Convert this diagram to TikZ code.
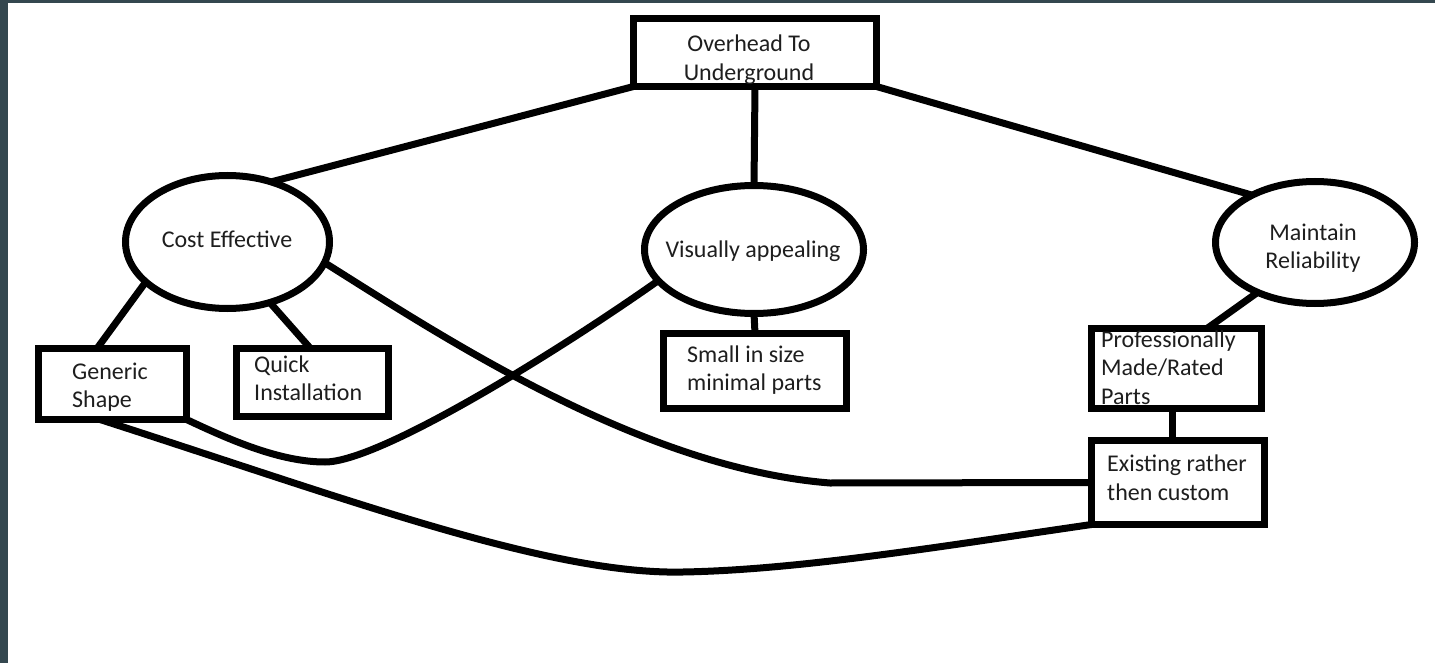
\documentclass[tikz,border=0pt]{standalone}
\usepackage{fontspec}
\setmainfont{Carlito}
\usetikzlibrary{shapes.geometric,calc}
\definecolor{framecol}{RGB}{52,71,79}
\definecolor{ink}{RGB}{30,30,30}
\begin{document}
\begin{tikzpicture}[x=1pt,y=-1pt,
  box/.style={draw,rectangle,line width=7pt,inner sep=0pt,outer sep=0pt},
  oval/.style={draw,ellipse,line width=7pt,inner sep=0pt,outer sep=0pt},
  txt/.style={text=ink,font=\fontsize{24}{28.5}\selectfont,inner sep=0pt},
  link/.style={line width=7pt}]
\fill[framecol] (0,0) rectangle (1435,663);
\fill[white] (8,3) rectangle (1435,663);
\useasboundingbox (0,0) rectangle (1435,663);
% shapes
\node[box,minimum width=243pt,minimum height=68pt] (top) at (755,52.5) {};
\node[oval,minimum width=204pt,minimum height=133pt] (cost) at (227.5,242) {};
\node[oval,minimum width=219pt,minimum height=128pt] (vis) at (754,249.5) {};
\node[oval,minimum width=199pt,minimum height=122pt] (maint) at (1315,242.5) {};
\node[box,minimum width=183pt,minimum height=75pt] (small) at (755,371) {};
\node[box,minimum width=148pt,minimum height=71pt] (gen) at (112.5,384) {};
\node[box,minimum width=152pt,minimum height=68pt] (quick) at (312.5,382.5) {};
\node[box,minimum width=170pt,minimum height=80pt] (prof) at (1176.5,368.5) {};
\node[box,minimum width=173pt,minimum height=84pt] (exist) at (1178,482.5) {};
% texts
\node[txt,align=center] (toptxt) at (749,59.5) {Overhead To\\Underground};
\node[txt] (costtxt) at (227,239) {Cost Effective};
\node[txt] (vistxt) at (753,251) {Visually appealing};
\node[txt,align=center] (mainttxt) at (1313,248) {Maintain\\Reliability};
\node[txt,align=left,anchor=west] (smalltxt) at (687,370) {Small in size\\minimal parts};
\node[txt,align=left,anchor=west] (gentxt) at (72,387) {Generic\\Shape};
\node[txt,align=left,anchor=west] (quicktxt) at (254,378.5) {Quick\\Installation};
\node[txt,align=left,anchor=west] (proftxt) at (1101,367.5) {Professionally\\Made/Rated\\Parts};
\node[txt,align=left,anchor=west] (existtxt) at (1107,478) {Existing rather\\then custom};
% connectors
\draw[link] (top.south west) -- (cost.54);
\draw[link] (top.south) -- (vis.north);
\draw[link] (top.south east) -- (maint.143);
\draw[link] (cost.206) -- ([xshift=-15.5pt]gen.north);
\draw[link] (cost.-55) -- ([xshift=-2pt]quick.north);
\draw[link] (vis.south) -- (small.north);
\draw[link] (maint.221) -- ([xshift=30.5pt]prof.north);
\draw[link] ([xshift=-4.5pt]prof.south) -- ([xshift=-4.5pt]prof.south |- exist.north);
\draw[link] (gen.south east) .. controls (230,440) and (280,462) .. (325,462)
  .. controls (380,462) and (560,350) .. (vis.198);
\draw[link] (cost.-12) .. controls (440,335) and (640,468) .. (830,483) -- (exist.west);
\draw[link] ([xshift=-12.5pt]gen.south) .. controls (350,500) and (550,575) .. (683,572)
  .. controls (800,570) and (950,545) .. (exist.south west);
\end{tikzpicture}
\end{document}
